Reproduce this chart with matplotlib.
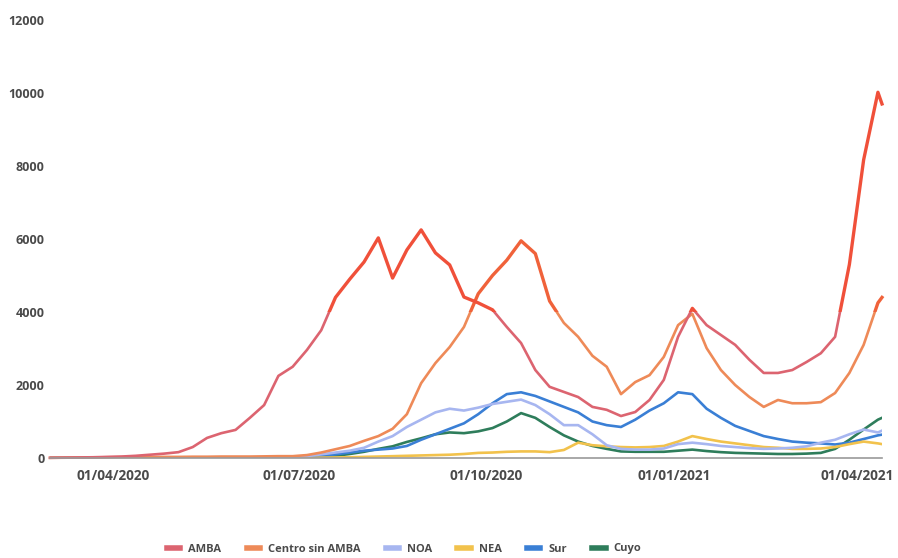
import matplotlib
matplotlib.use("Agg")
import matplotlib.pyplot as plt
import matplotlib.dates as mdates
from matplotlib.patches import Rectangle
import pandas as pd

# Weekly samples from 1 Mar 2020, plus the last reported day (13 Apr 2021)
dates = list(pd.date_range("2020-03-01", periods=59, freq="7D")) + [pd.Timestamp("2021-04-13")]

amba = [5, 10, 15, 20, 30, 40, 60, 90, 120, 160,
        300, 550, 680, 770, 1100, 1450, 2250, 2500, 2960, 3500,
        4400, 4900, 5370, 6030, 4930, 5700, 6250, 5620, 5290, 4410,
        4250, 4060, 3590, 3150, 2410, 1950, 1810, 1670, 1400, 1320,
        1150, 1260, 1590, 2140, 3320, 4100, 3640, 3370, 3100, 2690,
        2330, 2330, 2410, 2630, 2870, 3320, 5300, 8170, 10020, 9700]

centro = [5, 8, 12, 15, 20, 25, 30, 30, 30, 30,
          35, 35, 40, 40, 40, 45, 50, 50, 80, 150,
          240, 330, 470, 600, 800, 1200, 2050, 2600, 3040, 3590,
          4500, 5000, 5420, 5950, 5600, 4300, 3700, 3320, 2800, 2500,
          1750, 2080, 2270, 2770, 3640, 3950, 3010, 2410, 2000, 1670,
          1400, 1590, 1500, 1500, 1530, 1780, 2330, 3100, 4250, 4400]

noa = [0, 0, 0, 0, 2, 3, 5, 5, 5, 5,
       8, 10, 10, 12, 15, 18, 20, 25, 50, 100,
       150, 200, 280, 450, 600, 850, 1050, 1250, 1350, 1300,
       1380, 1480, 1540, 1600, 1450, 1200, 900, 900, 650, 350,
       250, 230, 230, 260, 380, 420, 380, 330, 300, 270,
       250, 260, 280, 320, 420, 500, 650, 780, 700, 750]

nea = [0, 0, 0, 0, 1, 2, 3, 3, 3, 3,
       4, 4, 4, 5, 5, 5, 5, 5, 5, 10,
       15, 20, 30, 40, 50, 60, 70, 80, 90, 110,
       140, 150, 170, 180, 180, 160, 220, 420, 350, 320,
       300, 290, 300, 330, 450, 600, 520, 450, 400, 350,
       300, 280, 250, 250, 260, 300, 380, 450, 400, 380]

sur = [0, 0, 0, 2, 3, 5, 5, 5, 5, 5,
       6, 6, 6, 6, 6, 6, 5, 5, 20, 60,
       100, 150, 200, 230, 260, 330, 500, 650, 800, 950,
       1200, 1500, 1750, 1800, 1700, 1550, 1400, 1250, 1000, 900,
       850, 1050, 1300, 1500, 1800, 1750, 1350, 1100, 880, 740,
       600, 520, 450, 420, 400, 370, 420, 520, 620, 640]

cuyo = [0, 0, 0, 0, 1, 2, 3, 3, 3, 3,
        3, 3, 3, 4, 4, 4, 5, 5, 10, 30,
        60, 110, 170, 250, 320, 440, 540, 650, 700, 680,
        730, 820, 1000, 1230, 1100, 850, 620, 450, 330, 250,
        180, 170, 170, 170, 200, 230, 190, 160, 140, 130,
        120, 110, 110, 120, 140, 250, 500, 780, 1050, 1100]

series = [
    ("AMBA", amba, "#dc6470", "#f0503a"),
    ("Centro sin AMBA", centro, "#ee8a58", "#f0623a"),
    ("NOA", noa, "#a7b6f0", None),
    ("NEA", nea, "#f2c24c", None),
    ("Sur", sur, "#3a7fd5", None),
    ("Cuyo", cuyo, "#2e7d5b", None),
]

yticks = [0, 2000, 4000, 6000, 8000, 10000, 12000]
xticks = ["2020-04-01", "2020-07-01", "2020-10-01", "2021-01-01", "2021-04-01"]

plt.rcParams["font.family"] = ["Open Sans", "DejaVu Sans"]
fig = plt.figure(figsize=(8.98, 5.58), dpi=100)
ax = fig.add_axes([50 / 898, 100 / 558, 832 / 898, 438 / 558])

x0 = mdates.date2num(pd.Timestamp("2020-03-01"))
x1 = mdates.date2num(pd.Timestamp("2021-04-13"))

# Paint order: later regions underneath, the two big series on top
for name, vals, col, hot in reversed(series):
    line, = ax.plot(dates, vals, color=col, lw=1.9, label=name, solid_joinstyle="round")
    if hot is not None:
        # saturated tone for the part of the curve above 4000 cases
        line.set_clip_path(Rectangle((x0 - 10, -5000), x1 - x0 + 20, 9000,
                                     transform=ax.transData))
        top, = ax.plot(dates, vals, color=hot, lw=2.4, solid_joinstyle="round")
        top.set_clip_path(Rectangle((x0 - 10, 4000), x1 - x0 + 20, 20000,
                                    transform=ax.transData))

ax.set_xlim(x0, x1)
ax.set_ylim(0, 12000)
ax.set_yticks(yticks)
ax.set_yticklabels([str(v) for v in yticks])
ax.set_xticks([mdates.date2num(pd.Timestamp(d)) for d in xticks])
ax.set_xticklabels([pd.Timestamp(d).strftime("%d/%m/%Y") for d in xticks])

for s in ("top", "right", "left"):
    ax.spines[s].set_visible(False)
ax.spines["bottom"].set_color("#9a9a9a")
ax.spines["bottom"].set_linewidth(1.2)
ax.tick_params(axis="y", length=0, colors="#4a4a4a", labelsize=9, pad=4)
ax.tick_params(axis="x", length=0, colors="#4a4a4a", labelsize=9.8, pad=8)
for lab in ax.get_xticklabels() + ax.get_yticklabels():
    lab.set_fontweight("bold")

handles, labels = ax.get_legend_handles_labels()
order = [labels.index(s[0]) for s in series]
leg = fig.legend([handles[i] for i in order], [labels[i] for i in order],
                 loc="center", bbox_to_anchor=(404 / 898, 1 - 549 / 558),
                 ncol=6, frameon=False, handlelength=1.2, columnspacing=2.3,
                 handletextpad=0.7, prop={"size": 8, "weight": "bold"})
for t in leg.get_texts():
    t.set_color("#4a4a4a")
for h in leg.legend_handles:
    h.set_linewidth(4)

fig.savefig("out.png", dpi=100, facecolor="white")
